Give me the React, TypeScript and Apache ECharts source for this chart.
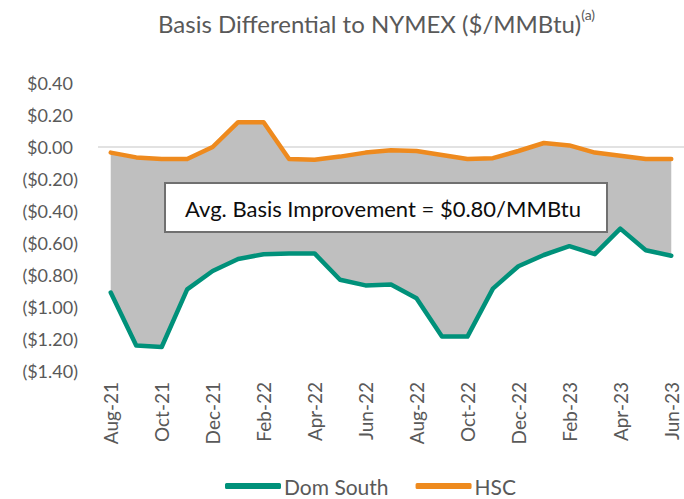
import React, { useEffect, useRef } from "react";
import * as echarts from "echarts";

const categories = [
  "Aug-21", "Sep-21", "Oct-21", "Nov-21", "Dec-21", "Jan-22", "Feb-22", "Mar-22",
  "Apr-22", "May-22", "Jun-22", "Jul-22", "Aug-22", "Sep-22", "Oct-22", "Nov-22",
  "Dec-22", "Jan-23", "Feb-23", "Mar-23", "Apr-23", "May-23", "Jun-23",
];
const domSouth = [
  -0.91, -1.24, -1.25, -0.89, -0.775, -0.7, -0.67, -0.665, -0.665, -0.83, -0.865, -0.86,
  -0.945, -1.185, -1.185, -0.885, -0.745, -0.675, -0.62, -0.67, -0.51, -0.645, -0.68,
];
const hsc = [
  -0.035, -0.065, -0.075, -0.075, 0.0, 0.155, 0.155, -0.075, -0.08, -0.06, -0.035, -0.02,
  -0.025, -0.05, -0.075, -0.07, -0.025, 0.025, 0.01, -0.035, -0.055, -0.075, -0.075,
];
const annotation = "Avg. Basis Improvement = $0.80/MMBtu";
const FONT = "Lato, 'Open Sans', sans-serif";
const GREY = "#595959";

function fmt(v: number): string {
  const a = Math.abs(v).toFixed(2);
  if (v < -1e-9) return `{n|($${a})}`;
  return `{p|$${a}}`;
}

export default function App() {
  const ref = useRef<HTMLDivElement>(null);
  useEffect(() => {
    if (!ref.current) return;
    const chart = echarts.init(ref.current, null, { renderer: "svg" });
    const band = hsc.map((h, i) => +(h - domSouth[i]).toFixed(4));
    chart.setOption({
      animation: false,
      backgroundColor: "#ffffff",
      textStyle: { fontFamily: FONT },
      title: {
        text: "{t|Basis Differential to NYMEX ($/MMBtu)}{s|(a)}",
        left: 153,
        top: 2,
        textStyle: {
          fontWeight: "normal",
          rich: {
            t: { fontSize: 24, color: GREY, fontFamily: FONT, fontWeight: "normal", lineHeight: 32 },
            s: { fontSize: 14, color: GREY, fontFamily: FONT, fontWeight: "normal", verticalAlign: "top", lineHeight: 32, padding: [0, 0, 12, 0] },
          },
        },
      },
      legend: {
        data: ["Dom South", "HSC"],
        left: 220,
        top: 470,
        icon: "roundRect",
        itemWidth: 56,
        itemHeight: 6,
        itemGap: 27,
        textStyle: { fontSize: 21, lineHeight: 22, color: GREY, fontFamily: FONT, padding: [0, 0, 0, -2] },
      },
      grid: { left: 98, top: 83, width: 595, height: 288, containLabel: false },
      xAxis: {
        type: "category",
        data: categories,
        boundaryGap: true,
        axisLine: { show: false },
        axisTick: { show: false },
        axisLabel: {
          rotate: 90,
          interval: 1,
          margin: 11,
          fontSize: 19,
          color: GREY,
          fontFamily: FONT,
        },
      },
      yAxis: {
        type: "value",
        min: -1.4,
        max: 0.4,
        interval: 0.2,
        axisLine: { show: false },
        axisTick: { show: false },
        splitLine: { show: false },
        axisLabel: {
          margin: 20,
          formatter: (v: number) => fmt(v),
          rich: {
            p: { fontSize: 18, color: GREY, fontFamily: FONT, padding: [0, 5, 0, 0] },
            n: { fontSize: 18, color: GREY, fontFamily: FONT },
          },
        },
      },
      series: [
        {
          name: "base",
          type: "line",
          data: domSouth,
          stack: "band",
          stackStrategy: "all",
          symbol: "none",
          lineStyle: { opacity: 0 },
          silent: true,
          z: 1,
        },
        {
          name: "gap",
          type: "line",
          data: band,
          stack: "band",
          stackStrategy: "all",
          symbol: "none",
          lineStyle: { opacity: 0 },
          areaStyle: { color: "#BFBFBF", opacity: 1 },
          silent: true,
          z: 1,
          markLine: {
            silent: true,
            symbol: "none",
            label: { show: false },
            lineStyle: { color: "#D9D9D9", type: "solid", width: 1.5 },
            data: [{ yAxis: 0 }],
            z: 0,
          },
        },
        {
          name: "Dom South",
          type: "line",
          data: domSouth,
          symbol: "none",
          color: "#00917A",
          lineStyle: { color: "#00917A", width: 4.5, cap: "round", join: "round" },
          z: 3,
        },
        {
          name: "HSC",
          type: "line",
          data: hsc,
          symbol: "none",
          color: "#EE8A1E",
          lineStyle: { color: "#EE8A1E", width: 4.5, cap: "round", join: "round" },
          z: 3,
        },
      ],
      graphic: [
        {
          type: "rect",
          shape: { x: 165, y: 183, width: 442, height: 49 },
          style: { fill: "#ffffff", stroke: "#707070", lineWidth: 2 },
          z: 10,
        },
        {
          type: "text",
          x: 383,
          y: 208,
          style: {
            text: annotation,
            fontSize: 22,
            fill: "#0D0D0D",
            fontFamily: FONT,
            align: "center",
            verticalAlign: "middle",
          },
          z: 11,
        },
      ],
    });
    return () => chart.dispose();
  }, []);
  return <div ref={ref} style={{ width: 684, height: 499, position: "absolute", left: 0, top: 0 }} />;
}
